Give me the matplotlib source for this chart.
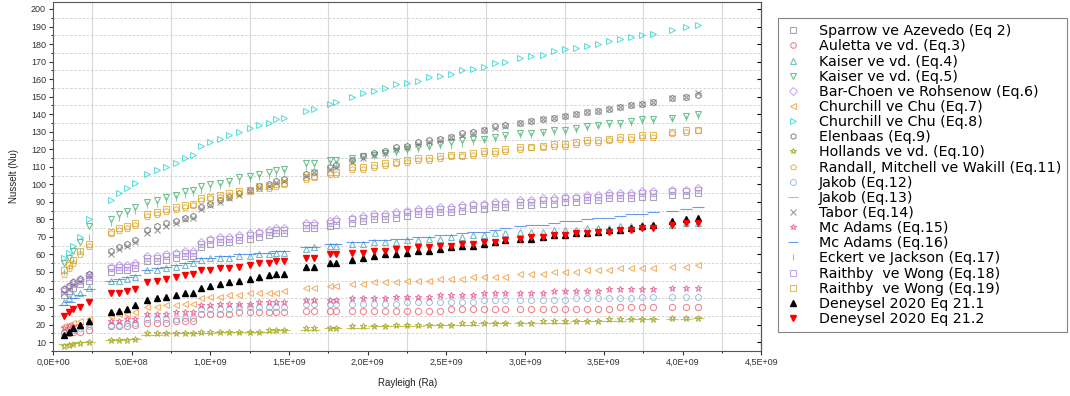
import numpy as np
import matplotlib.pyplot as plt
from matplotlib.ticker import MultipleLocator, FixedLocator, FixedFormatter

plt.rcParams['font.family'] = ['Liberation Sans', 'DejaVu Sans']

# Rayleigh values (x 1e9), grouped by measurement blocks
ra_e9 = [0.07, 0.10, 0.13, 0.17, 0.23,
         0.37, 0.42, 0.47, 0.52,
         0.60, 0.66, 0.72, 0.78, 0.84, 0.89,
         0.94, 1.00, 1.06, 1.12, 1.18, 1.25, 1.31, 1.37, 1.42, 1.47, 1.61, 1.66, 1.76, 1.80,
         1.90, 1.97, 2.04, 2.11, 2.18, 2.25, 2.32, 2.39, 2.46, 2.53, 2.60, 2.67, 2.74, 2.81, 2.87,
         2.97, 3.04, 3.11, 3.18, 3.25, 3.32, 3.39, 3.46, 3.53, 3.60, 3.67, 3.74, 3.81,
         3.93, 4.02, 4.10]

sparrow = [37, 39, 41, 43, 45,
           50, 51, 51, 52,
           56, 56, 57, 58, 59, 59,
           64, 66, 67, 67, 68, 69, 70, 71, 72, 72, 75, 75, 76, 77,
           78, 79, 80, 80, 81, 82, 83, 83, 84, 84, 85, 86, 86, 87, 87,
           88, 88, 89, 89, 90, 90, 91, 91, 92, 92, 92, 93, 93,
           94, 94, 95]
auletta = [15, 15, 16, 16, 17,
           19, 19, 19, 20,
           21, 21, 21, 22, 22, 22,
           26, 26, 26, 26, 27, 27, 27, 27, 27, 27, 28, 28, 28, 28,
           28, 28, 28, 28, 28, 28, 28, 28, 28, 29, 29, 29, 29, 29, 29,
           29, 29, 29, 29, 29, 29, 29, 29, 29, 30, 30, 30, 30,
           30, 30, 30]
kaiser4 = [33, 35, 37, 38, 41,
           45, 45, 46, 47,
           51, 51, 52, 53, 54, 55,
           57, 58, 58, 58, 59, 59, 60, 60, 61, 61, 63, 64, 65, 65,
           66, 66, 67, 67, 67, 68, 68, 69, 69, 70, 70, 71, 71, 72, 72,
           73, 73, 73, 74, 74, 74, 75, 75, 75, 76, 76, 77, 77,
           77, 78, 78]
kaiser5 = [55, 58, 62, 67, 76,
           80, 83, 85, 87,
           90, 91, 93, 94, 96, 97,
           99, 100, 101, 102, 104, 105, 106, 107, 108, 109, 112, 112, 114, 114,
           115, 116, 117, 118, 119, 120, 121, 122, 123, 124, 125, 126, 126, 127, 128,
           129, 129, 130, 131, 131, 132, 133, 134, 135, 135, 136, 137, 137,
           138, 139, 140]
bar_cohen = [40, 42, 44, 46, 48,
             53, 54, 54, 55,
             59, 59, 60, 61, 62, 62,
             67, 69, 70, 70, 71, 72, 73, 74, 75, 75, 78, 78, 79, 80,
             81, 82, 83, 83, 84, 85, 86, 86, 87, 87, 88, 89, 89, 90, 90,
             91, 91, 92, 92, 93, 93, 94, 94, 95, 95, 95, 96, 96,
             97, 97, 98]
churchill7 = [19, 20, 21, 22, 23,
              25, 26, 26, 27,
              30, 30, 31, 31, 32, 32,
              35, 36, 36, 37, 37, 38, 38, 38, 38, 39, 41, 41, 42, 42,
              43, 43, 44, 44, 44, 45, 45, 45, 46, 46, 46, 47, 47, 47, 47,
              49, 49, 49, 50, 50, 50, 51, 51, 51, 52, 52, 52, 52,
              53, 53, 54]
churchill8 = [58, 61, 65, 70, 80,
              91, 95, 98, 101,
              106, 108, 110, 112, 115, 117,
              122, 124, 126, 128, 130, 132, 134, 135, 137, 138, 142, 143, 146, 147,
              150, 152, 153, 155, 157, 158, 159, 161, 162, 163, 165, 166, 167, 169, 170,
              172, 173, 174, 176, 177, 178, 179, 180, 182, 183, 184, 185, 186,
              188, 190, 191]
elenbaas = [40, 42, 44, 46, 49,
            62, 64, 66, 68,
            74, 76, 78, 79, 81, 82,
            87, 89, 91, 93, 95, 97, 99, 100, 102, 103, 106, 107, 110, 111,
            114, 116, 118, 119, 121, 122, 124, 125, 126, 127, 129, 130, 131, 133, 134,
            135, 136, 137, 138, 139, 140, 141, 142, 143, 144, 145, 146, 147,
            149, 150, 151]
hollands = [8, 8.5, 9, 9.5, 10,
            11, 11, 11, 12,
            15, 15, 15, 15, 15, 15,
            16, 16, 16, 16, 16, 16, 16, 17, 17, 17, 18, 18, 18, 18,
            19, 19, 19, 19, 20, 20, 20, 20, 20, 20, 21, 21, 21, 21, 21,
            21, 21, 22, 22, 22, 22, 22, 22, 23, 23, 23, 23, 23,
            24, 24, 24]
randall = [49, 52, 55, 60, 65,
           72, 74, 75, 77,
           82, 83, 85, 86, 87, 88,
           91, 92, 93, 94, 95, 96, 98, 98, 99, 100, 103, 104, 106, 106,
           109, 109, 110, 111, 112, 113, 114, 114, 115, 116, 116, 117, 118, 118, 119,
           120, 121, 121, 122, 122, 123, 124, 124, 125, 126, 126, 127, 127,
           129, 130, 131]
jakob12 = [16, 16, 17, 18, 19,
           20, 20, 21, 21,
           23, 23, 23, 23, 24, 24,
           29, 29, 29, 29, 30, 30, 30, 30, 30, 30, 32, 32, 32, 32,
           32, 32, 32, 32, 32, 33, 33, 33, 33, 33, 33, 33, 34, 34, 34,
           34, 34, 34, 34, 34, 35, 35, 35, 35, 35, 35, 36, 36,
           36, 36, 36]
jakob13 = [9, 9, 9.5, 10, 10,
           11, 11, 12, 12,
           14, 14, 15, 15, 15, 15,
           15, 15, 16, 16, 16, 16, 16, 16, 17, 17, 17, 17, 18, 18,
           18, 18, 19, 19, 19, 19, 19, 20, 20, 20, 20, 20, 21, 21, 21,
           21, 21, 21, 21, 21, 22, 22, 22, 22, 22, 23, 23, 23,
           23, 23, 24]
tabor = [38, 40, 43, 45, 48,
         60, 63, 65, 67,
         72, 74, 76, 78, 80, 81,
         86, 88, 90, 92, 94, 96, 98, 99, 101, 102, 105, 107, 109, 110,
         113, 115, 117, 118, 120, 121, 123, 124, 125, 127, 128, 129, 131, 132, 133,
         135, 136, 137, 138, 139, 140, 141, 142, 143, 144, 145, 146, 147,
         149, 150, 152]
mcadams15 = [18, 19, 19, 20, 21,
             22, 22, 23, 23,
             26, 26, 26, 27, 27, 27,
             31, 31, 32, 32, 32, 32, 33, 33, 33, 33, 34, 34, 34, 34,
             35, 35, 35, 35, 36, 36, 36, 36, 37, 37, 37, 37, 38, 38, 38,
             38, 38, 38, 39, 39, 39, 39, 39, 40, 40, 40, 40, 40,
             41, 41, 41]
mcadams16 = [31, 33, 35, 37, 40,
             45, 46, 47, 48,
             51, 52, 53, 54, 55, 56,
             58, 58, 59, 59, 60, 60, 61, 61, 62, 62, 64, 64, 66, 66,
             67, 67, 68, 68, 69, 69, 70, 70, 71, 71, 72, 73, 73, 74, 75,
             76, 77, 77, 78, 79, 79, 80, 81, 81, 82, 83, 83, 84,
             85, 86, 87]
eckert = [50, 53, 57, 62, 70,
          78, 81, 83, 85,
          88, 89, 91, 92, 94, 95,
          97, 98, 99, 100, 102, 103, 104, 105, 106, 107, 110, 110, 112, 112,
          114, 115, 116, 117, 118, 119, 120, 121, 122, 122, 123, 124, 125, 126, 127,
          128, 128, 129, 130, 130, 131, 132, 133, 134, 134, 135, 136, 136,
          137, 138, 139]
raithby18 = [39, 41, 43, 45, 47,
             52, 53, 53, 54,
             58, 58, 59, 60, 61, 61,
             66, 68, 69, 69, 70, 71, 72, 73, 74, 74, 77, 77, 78, 79,
             80, 81, 82, 82, 83, 84, 85, 85, 86, 86, 87, 88, 88, 89, 89,
             90, 90, 91, 91, 92, 92, 93, 93, 94, 94, 94, 95, 95,
             96, 96, 97]
raithby19 = [51, 54, 57, 62, 66,
             73, 75, 76, 78,
             83, 84, 86, 87, 88, 89,
             92, 93, 94, 95, 96, 97, 99, 99, 100, 101, 104, 105, 107, 107,
             110, 110, 111, 112, 113, 114, 115, 115, 116, 117, 117, 118, 119, 119, 120,
             121, 121, 122, 123, 123, 124, 125, 125, 126, 127, 127, 128, 128,
             130, 131, 131]
deneysel_211 = [14, 16, 18, 20, 22,
                27, 28, 29, 31,
                34, 35, 36, 37, 38, 38,
                41, 42, 43, 44, 45, 46, 47, 48, 49, 49, 53, 53, 55, 55,
                57, 58, 59, 60, 60, 61, 62, 62, 63, 64, 65, 65, 66, 67, 68,
                69, 69, 70, 71, 71, 72, 72, 73, 74, 74, 75, 76, 77,
                79, 80, 81]
deneysel_212 = [25, 27, 29, 30, 33,
                38, 38, 39, 40,
                44, 45, 46, 47, 48, 49,
                51, 51, 52, 52, 53, 54, 55, 55, 56, 56, 58, 58, 60, 60,
                61, 61, 62, 62, 63, 63, 64, 64, 65, 65, 66, 66, 67, 67, 68,
                69, 70, 70, 71, 71, 72, 72, 73, 73, 74, 74, 75, 75,
                77, 78, 78]

x_tick_vals = [0, 5e8, 1e9, 1.5e9, 2e9, 2.5e9, 3e9, 3.5e9, 4e9, 4.5e9]
x_tick_labels = ['0,0E+00', '5,0E+08', '1,0E+09', '1,5E+09', '2,0E+09',
                 '2,5E+09', '3,0E+09', '3,5E+09', '4,0E+09', '4,5E+09']

# (label, values, marker, color, filled)
series = [
    ('Sparrow ve Azevedo (Eq 2)', sparrow, 's', '#8a8a9a', False),
    ('Auletta ve vd. (Eq.3)', auletta, 'o', '#e8606a', False),
    ('Kaiser ve vd. (Eq.4)', kaiser4, '^', '#4aa6b8', False),
    ('Kaiser ve vd. (Eq.5)', kaiser5, 'v', '#3fae6a', False),
    ('Bar-Choen ve Rohsenow (Eq.6)', bar_cohen, 'D', '#b99ae6', False),
    ('Churchill ve Chu (Eq.7)', churchill7, '<', '#f29a3a', False),
    ('Churchill ve Chu (Eq.8)', churchill8, '>', '#2ed3d0', False),
    ('Elenbaas (Eq.9)', elenbaas, 'h', '#6a6a6a', False),
    ('Hollands ve vd. (Eq.10)', hollands, '*', '#9a9a10', False),
    ('Randall, Mitchell ve Wakill (Eq.11)', randall, 'p', '#e8a040', False),
    ('Jakob (Eq.12)', jakob12, '8', '#8ab8e0', False),
    ('Jakob (Eq.13)', jakob13, '_', '#b0b820', False),
    ('Tabor (Eq.14)', tabor, 'x', '#7a7a7a', False),
    ('Mc Adams (Eq.15)', mcadams15, '*', '#e8508a', False),
    ('Mc Adams (Eq.16)', mcadams16, '_', '#3a7ee0', False),
    ('Eckert ve Jackson (Eq.17)', eckert, '|', '#70b890', False),
    ('Raithby  ve Wong (Eq.18)', raithby18, 's', '#b48ee0', False),
    ('Raithby  ve Wong (Eq.19)', raithby19, 's', '#d8a820', False),
    ('Deneysel 2020 Eq 21.1', deneysel_211, '^', 'black', True),
    ('Deneysel 2020 Eq 21.2', deneysel_212, 'v', 'red', True),
]

ra = np.array(ra_e9) * 1e9

fig = plt.figure(figsize=(10.7, 3.96), dpi=100)
ax = fig.add_axes([0.0495, 0.114, 0.662, 0.881])

for label, vals, mk, col, filled in series:
    if filled:
        ax.plot(ra, vals, linestyle='none', marker=mk, color=col, markersize=5,
                label=label, zorder=4)
    else:
        # dash markers are drawn long so that they join into a line like the original
        size = 8.5 if mk == '_' else 4.5
        ax.plot(ra, vals, linestyle='none', marker=mk, markerfacecolor='none',
                markeredgecolor=col, markeredgewidth=0.8, markersize=size, alpha=0.75,
                label=label, zorder=3)

ax.set_xlim(0, 4.5e9)
ax.set_ylim(5, 204)
ax.xaxis.set_major_locator(FixedLocator(x_tick_vals))
ax.xaxis.set_major_formatter(FixedFormatter(x_tick_labels))
ax.xaxis.set_minor_locator(MultipleLocator(2.5e8))
ax.yaxis.set_major_locator(MultipleLocator(10))
ax.yaxis.set_minor_locator(MultipleLocator(5))
ax.yaxis.set_major_formatter(plt.FuncFormatter(lambda v, p: '%d' % v if v >= 10 else ''))

ax.grid(which='minor', axis='x', color='#d8d8d8', linewidth=0.8)
ax.grid(which='minor', axis='y', color='#cfcfcf', linewidth=0.6, linestyle=(0, (3, 2)))
ax.set_axisbelow(True)

ax.tick_params(which='major', length=3, width=0.8, labelsize=6.5, colors='#333333', pad=2)
ax.tick_params(which='minor', length=1.5, width=0.6)
for s in ax.spines.values():
    s.set_color('#555555')
    s.set_linewidth(0.8)

sec = ax.secondary_yaxis('right')
sec.yaxis.set_major_locator(MultipleLocator(10))
sec.tick_params(direction='in', length=3, labelright=False)
sec.spines['right'].set_color('#555555')

ax.set_xlabel('Rayleigh (Ra)', fontsize=7, labelpad=8, color='#222222')
ax.set_ylabel('Nusselt (Nu)', fontsize=7, color='#222222')
ax.yaxis.set_label_coords(-0.048, 0.5)

leg = fig.legend(loc='upper left', bbox_to_anchor=(0.727, 0.955),
                 prop={'family': 'DejaVu Sans', 'size': 10.3},
                 frameon=True, fancybox=False, edgecolor='#666666', labelspacing=0.08,
                 handlelength=1.2, handletextpad=1.2, borderpad=0.45, borderaxespad=0,
                 markerscale=0.9)
leg.get_frame().set_linewidth(0.8)

fig.savefig('out.png', dpi=100)
